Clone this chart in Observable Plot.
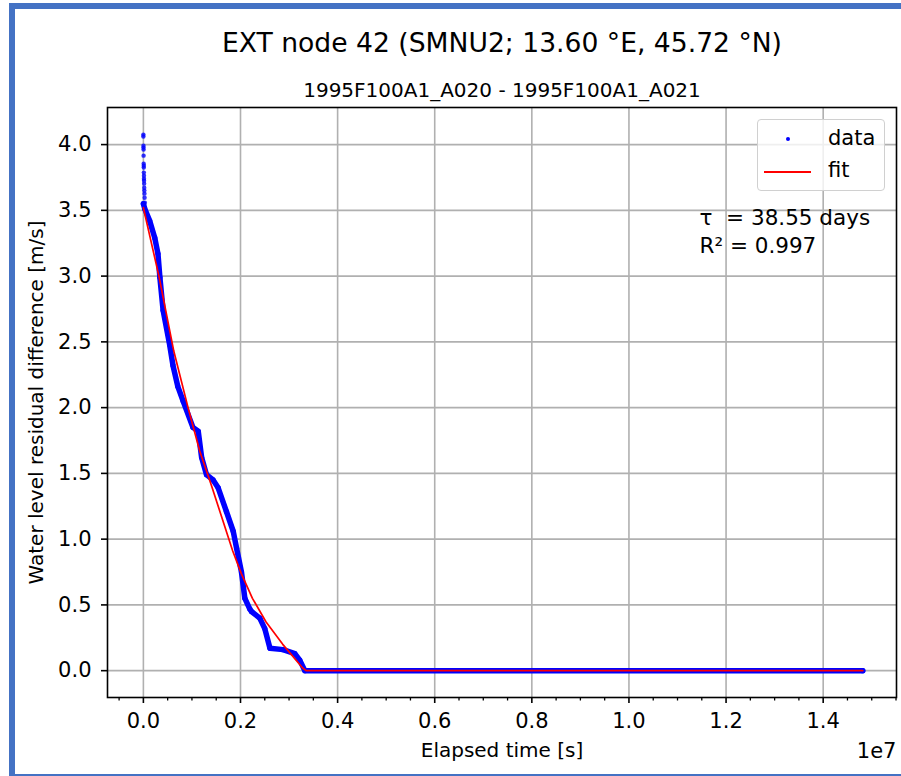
<!DOCTYPE html>
<html><head><meta charset="utf-8">
<script src="https://cdn.jsdelivr.net/npm/d3@7"></script>
<script src="https://cdn.jsdelivr.net/npm/@observablehq/plot@0.6"></script>
<style>
html,body{margin:0;padding:0;background:#fff;}
body{width:901px;height:776px;position:relative;overflow:hidden;font-family:"DejaVu Sans",sans-serif;color:#000;}
#border{position:absolute;left:9px;top:3px;width:900px;height:773px;border-left:6px solid #4472c4;border-top:6px solid #4472c4;border-bottom:2px solid #4472c4;box-sizing:border-box;}
.t{position:absolute;white-space:nowrap;line-height:1;transform:translateX(-50%);}
#title{left:502px;top:30px;font-size:26.6px;}
#subtitle{left:502px;top:80px;font-size:20px;}
#chart{position:absolute;left:0;top:100px;}
#legend{position:absolute;left:757px;top:119px;width:128px;height:72px;box-sizing:border-box;border:1px solid #d0d0d0;border-radius:4px;background:rgba(255,255,255,0.8);}
#legend span{position:absolute;font-size:21px;line-height:1;white-space:nowrap;}
#ldot{position:absolute;left:28px;top:17px;width:4px;height:4px;border-radius:50%;background:#0000ff;}
#lline{position:absolute;left:6px;top:51px;width:47px;height:2px;background:#ff0000;}
</style></head>
<body>
<div id="border"></div>
<div id="title" class="t"></div>
<div id="subtitle" class="t"></div>
<div id="chart"></div>
<div id="legend"><div id="ldot"></div><span id="ldata" style="left:70px;top:8px"></span><div id="lline"></div><span id="lfit" style="left:70px;top:40px"></span></div>
<script>
// ---- text ----
const titleText = "EXT node 42 (SMNU2; 13.60 °E, 45.72 °N)";
const subtitleText = "1995F100A1_A020 - 1995F100A1_A021";
const xLabel = "Elapsed time [s]";
const yLabel = "Water level residual difference [m/s]";
const xOffsetText = "1e7";
const legendLabels = ["data", "fit"];
const annotationLines = ["τ\u00a0 = 38.55 days", "R² = 0.997"];

// ---- ticks ----
const xTicks = [0, 2e6, 4e6, 6e6, 8e6, 1e7, 1.2e7, 1.4e7];
const xMinorTicks = [-5e5, 5e5, 1e6, 1.5e6, 2.5e6, 3e6, 3.5e6, 4.5e6, 5e6, 5.5e6, 6.5e6, 7e6, 7.5e6, 8.5e6, 9e6, 9.5e6, 1.05e7, 1.1e7, 1.15e7, 1.25e7, 1.3e7, 1.35e7, 1.45e7, 1.5e7, 1.55e7];
const yTicks = [0, 0.5, 1.0, 1.5, 2.0, 2.5, 3.0, 3.5, 4.0];

// ---- data: initial spike (first hours) ----
const spikeTime  = [0, 0, 2e3, 2e3, 4e3, 4e3, 6e3, 8e3, 8e3, 1e4, 1.2e4, 1.2e4, 1.4e4, 1.6e4, 1.8e4, 2e4, 2.2e4, 2.5e4, 3e4];
const spikeLevel = [4.076, 4.061, 3.992, 3.977, 3.962, 3.916, 3.855, 3.840, 3.825, 3.787, 3.764, 3.741, 3.726, 3.703, 3.672, 3.650, 3.627, 3.596, 3.558];

// ---- data: main trace ----
const dataTime  = [0, 3e4, 1.3e5, 2.35e5, 3.0e5, 3.4e5, 4.06e5, 5.4e5, 6.1e5, 7.1e5, 8.18e5, 1.02e6, 1.13e6, 1.20e6, 1.30e6, 1.435e6, 1.54e6, 1.71e6, 1.85e6, 1.92e6, 2.02e6, 2.09e6, 2.19e6, 2.226e6, 2.397e6, 2.50e6, 2.607e6, 2.877e6, 3.118e6, 3.22e6, 3.324e6, 1.4815e7];
const dataLevel = [3.55, 3.51, 3.42, 3.29, 3.17, 2.99, 2.74, 2.48, 2.32, 2.16, 2.05, 1.85, 1.82, 1.62, 1.49, 1.45, 1.39, 1.21, 1.06, 0.93, 0.75, 0.55, 0.47, 0.45, 0.40, 0.32, 0.17, 0.16, 0.13, 0.08, 0.0, 0.0];

// ---- fit ----
const fitTime  = [0, 3.2e5, 6.26e5, 9.2e5, 1.16e6, 1.40e6, 1.84e6, 2.015e6, 2.246e6, 2.527e6, 2.87e6, 3.28e6, 3.35e6, 1.4815e7];
const fitLevel = [3.52, 3.00, 2.43, 2.00, 1.67, 1.41, 0.91, 0.74, 0.55, 0.37, 0.20, 0.02, 0.0, 0.0];

document.getElementById("title").textContent = titleText;
document.getElementById("subtitle").textContent = subtitleText;
document.getElementById("ldata").textContent = legendLabels[0];
document.getElementById("lfit").textContent = legendLabels[1];

const spike = spikeTime.map((t, i) => ({t, v: spikeLevel[i]}));
const trace = dataTime.map((t, i) => ({t, v: dataLevel[i]}));
const fit = fitTime.map((t, i) => ({t, v: fitLevel[i]}));

const blue = "#0000ff", red = "#ff0000", grid = "#b0b0b0";
const fsTick = 21, fsNote = 21.5, fsLabel = 20;

const chart = Plot.plot({
  width: 901, height: 676,
  marginLeft: 107, marginRight: 5, marginTop: 7, marginBottom: 79,
  x: {domain: [-0.0739e7, 1.551e7]},
  y: {domain: [-0.204, 4.282]},
  style: {fontFamily: "DejaVu Sans", fontSize: fsTick + "px", color: "black", background: "transparent", overflow: "visible"},
  marks: [
    Plot.gridX(xTicks, {stroke: grid, strokeOpacity: 1, strokeWidth: 1.6}),
    Plot.gridY(yTicks, {stroke: grid, strokeOpacity: 1, strokeWidth: 1.6}),
    Plot.line(trace, {x: "t", y: "v", stroke: blue, strokeWidth: 5.5, strokeLinejoin: "round", strokeLinecap: "round"}),
    Plot.dot(trace, {x: "t", y: "v", r: 2.6, fill: blue, stroke: "none"}),
    Plot.dot(spike, {x: "t", y: "v", r: 2.2, fill: blue, fillOpacity: 0.8, stroke: "none"}),
    Plot.line(fit, {x: "t", y: "v", stroke: red, strokeWidth: 1.7}),
    Plot.frame({stroke: "black", strokeWidth: 1.6}),
    Plot.axisX(xTicks, {tickSize: 6, tickPadding: 10, strokeWidth: 1.6, tickFormat: d => (d / 1e7).toFixed(1), label: null, fontSize: fsTick}),
    Plot.axisX(xMinorTicks, {tickSize: 3.5, strokeWidth: 1.3, tickFormat: () => "", label: null}),
    Plot.axisY(yTicks, {tickSize: 6, tickPadding: 10, strokeWidth: 1.6, tickFormat: d => d.toFixed(1), label: null, fontSize: fsTick}),
    Plot.text([annotationLines[0]], {frameAnchor: "top-left", dx: 592, dy: 111, textAnchor: "start", lineAnchor: "middle", fontSize: fsNote}),
    Plot.text([annotationLines[1]], {frameAnchor: "top-left", dx: 592, dy: 139, textAnchor: "start", lineAnchor: "middle", fontSize: fsNote}),
    Plot.text([xLabel], {frameAnchor: "bottom", dy: 53.5, textAnchor: "middle", lineAnchor: "middle", fontSize: fsLabel}),
    Plot.text([xOffsetText], {frameAnchor: "bottom-right", dy: 53.5, textAnchor: "end", lineAnchor: "middle", fontSize: fsTick}),
    Plot.text([yLabel], {frameAnchor: "left", dx: -71.3, rotate: -90, textAnchor: "middle", lineAnchor: "middle", fontSize: fsLabel})
  ]
});
document.getElementById("chart").appendChild(chart);
</script>
</body></html>
